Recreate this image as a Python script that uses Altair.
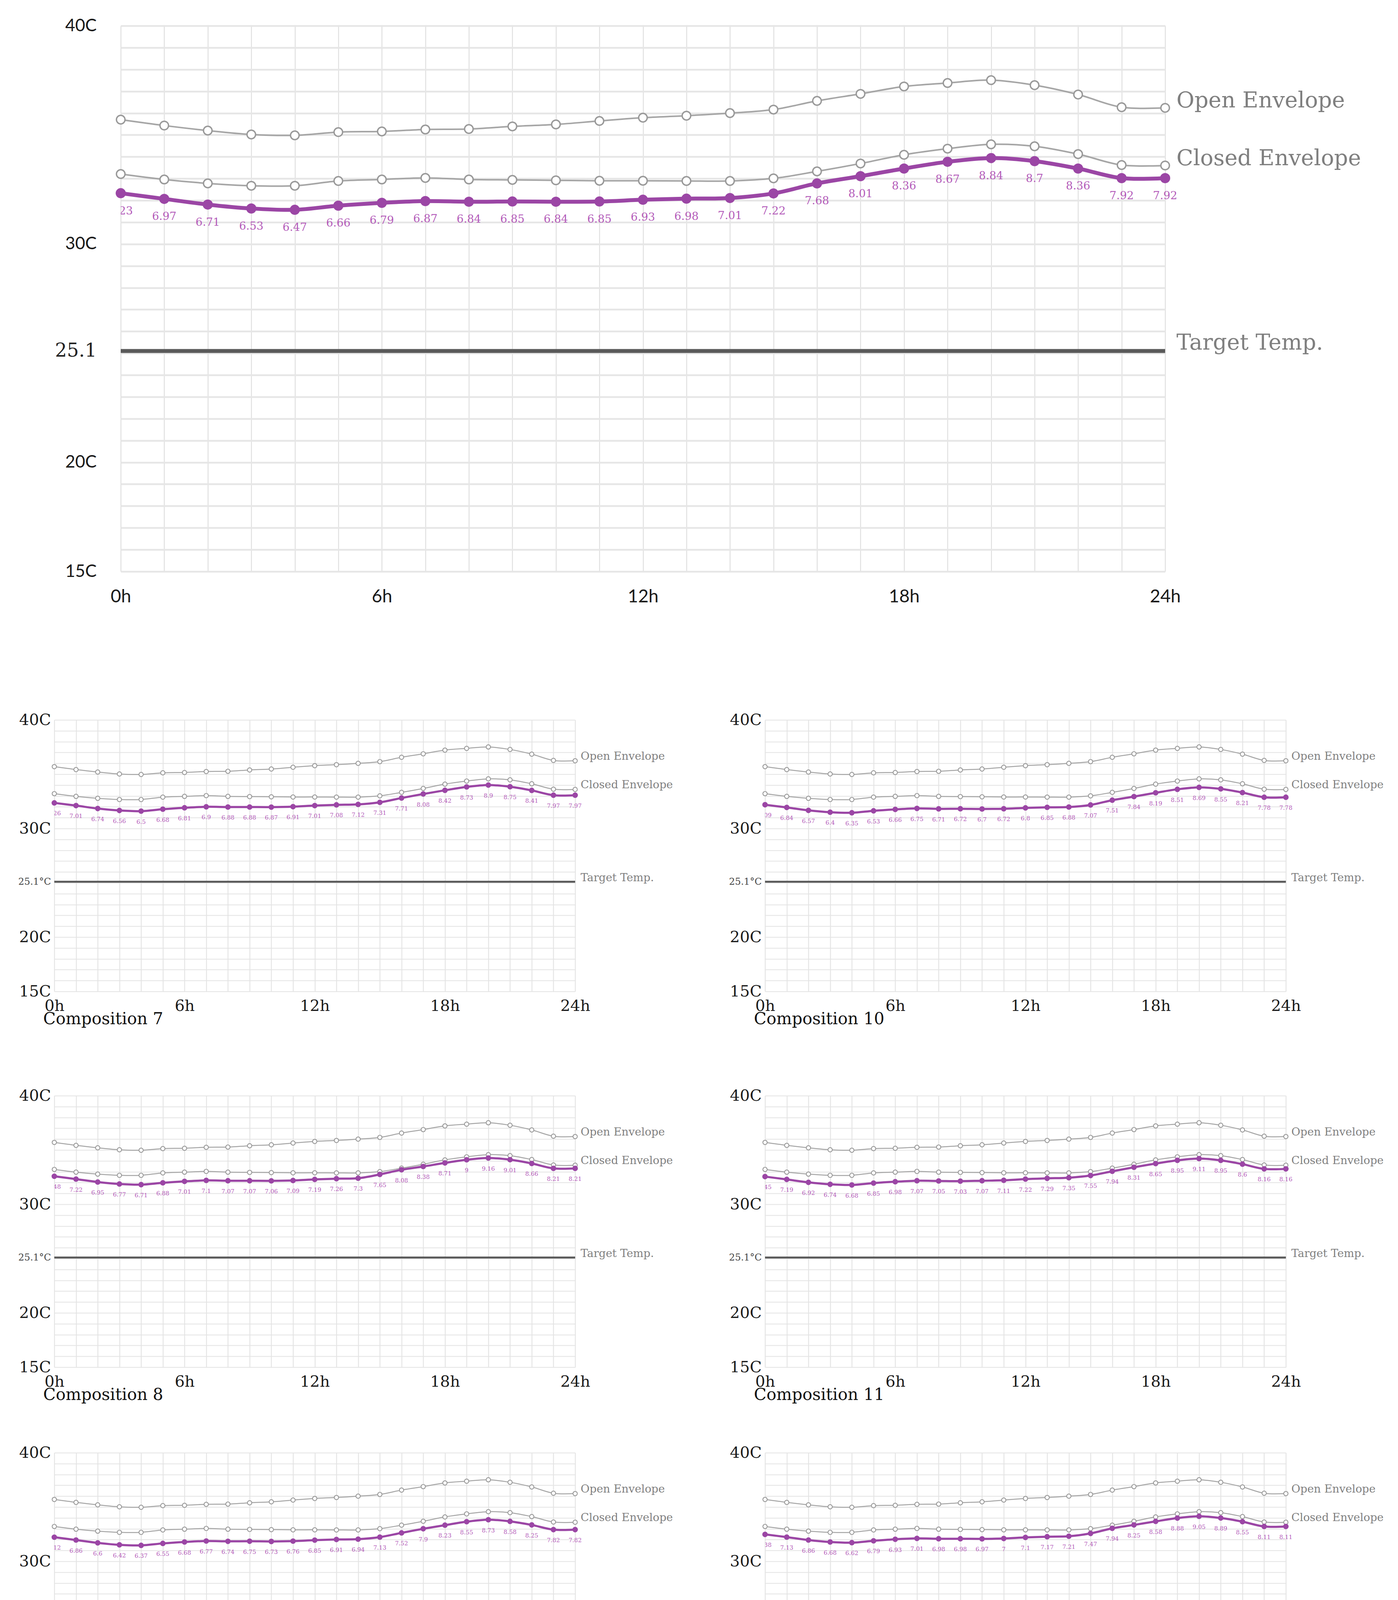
import altair as alt
import pandas as pd

HOURS = list(range(25))
OPEN_ENV = [35.70, 35.43, 35.20, 35.02, 34.98, 35.13, 35.16, 35.25, 35.27, 35.39, 35.48, 35.64, 35.79,
            35.88, 36.00, 36.16, 36.56, 36.88, 37.22, 37.38, 37.51, 37.28, 36.85, 36.27, 36.24]
CLOSED_ENV = [33.21, 32.96, 32.78, 32.67, 32.67, 32.89, 32.96, 33.03, 32.96, 32.94, 32.92, 32.90, 32.90,
              32.89, 32.89, 33.01, 33.33, 33.69, 34.09, 34.37, 34.57, 34.48, 34.12, 33.62, 33.60]
TARGET = 25.1

MAIN = [7.23, 6.97, 6.71, 6.53, 6.47, 6.66, 6.79, 6.87, 6.84, 6.85, 6.84, 6.85, 6.93, 6.98, 7.01,
        7.22, 7.68, 8.01, 8.36, 8.67, 8.84, 8.7, 8.36, 7.92, 7.92]
COMP7 = [7.26, 7.01, 6.74, 6.56, 6.5, 6.68, 6.81, 6.9, 6.88, 6.88, 6.87, 6.91, 7.01, 7.08, 7.12,
         7.31, 7.71, 8.08, 8.42, 8.73, 8.9, 8.75, 8.41, 7.97, 7.97]
COMP10 = [7.09, 6.84, 6.57, 6.4, 6.35, 6.53, 6.66, 6.75, 6.71, 6.72, 6.7, 6.72, 6.8, 6.85, 6.88,
          7.07, 7.51, 7.84, 8.19, 8.51, 8.69, 8.55, 8.21, 7.78, 7.78]
COMP8 = [7.48, 7.22, 6.95, 6.77, 6.71, 6.88, 7.01, 7.1, 7.07, 7.07, 7.06, 7.09, 7.19, 7.26, 7.3,
         7.65, 8.08, 8.38, 8.71, 9, 9.16, 9.01, 8.66, 8.21, 8.21]
COMP11 = [7.45, 7.19, 6.92, 6.74, 6.68, 6.85, 6.98, 7.07, 7.05, 7.03, 7.07, 7.11, 7.22, 7.29, 7.35,
          7.55, 7.94, 8.31, 8.65, 8.95, 9.11, 8.95, 8.6, 8.16, 8.16]
COMP9 = [7.12, 6.86, 6.6, 6.42, 6.37, 6.55, 6.68, 6.77, 6.74, 6.75, 6.73, 6.76, 6.85, 6.91, 6.94,
         7.13, 7.52, 7.9, 8.23, 8.55, 8.73, 8.58, 8.25, 7.82, 7.82]
COMP12 = [7.38, 7.13, 6.86, 6.68, 6.62, 6.79, 6.93, 7.01, 6.98, 6.98, 6.97, 7, 7.1, 7.17, 7.21,
          7.47, 7.94, 8.25, 8.58, 8.88, 9.05, 8.89, 8.55, 8.11, 8.11]

Y_TICKS = list(range(15, 41)) + [TARGET]
SERIES_NAMES = ["Open Envelope", "Closed Envelope", "Target Temp."]

PURPLE = "#9b46a5"
PURPLE_TXT = "#b35ab9"
GRAY_LINE = "#a6a6a6"
GRAY_MARK = "#999999"
TARGET_COLOR = "#5a5a5a"
LABEL_GRAY = "#7f7f7f"

BIG = dict(w=2673, h=1397, target_w=10, env_w=4, env_size=480, env_sw=3.5, p_w=10, p_size=676,
           lab_size=28, lab_dy=46, side_size=56, side_dx=29, side_dy=[-18, -18, -21],
           xfont="Lato", xsize=46, xpad=42, yfont="Lato", ysize=44, ypad=62,
           tfont="DejaVu Serif", tsize=48, ttext="'25.1\u00a0'", tcolor="#222222",
           hgrid_w=4.5, hgrid_c="#e6e6e6", vgrid_w=2, vgrid_c="#dadada")
SMALL = dict(w=1333, h=695, target_w=5, env_w=2.5, env_size=121, env_sw=2.2, p_w=5.5, p_size=200,
             lab_size=15, lab_dy=27, side_size=28, side_dx=14, side_dy=[-11, -11, -9],
             xfont="DejaVu Serif", xsize=40, xpad=17, yfont="DejaVu Serif", ysize=40, ypad=9,
             tfont="DejaVu Serif", tsize=24, ttext="'25.1°C'", tcolor="#444444",
             hgrid_w=2, hgrid_c="#e3e3e3", vgrid_w=2.5, vgrid_c="#e6e6e6")


def panel(values, big, title=None):
    S = BIG if big else SMALL
    df = pd.DataFrame({"hour": HOURS, "open": OPEN_ENV, "closed": CLOSED_ENV, "diff": values})
    df["temp"] = TARGET + df["diff"]
    df["label"] = [f"{v:g}" for v in values]

    xs = alt.Scale(domain=[0, 24], nice=False, zero=False)
    ys = alt.Scale(domain=[15, 40], nice=False, zero=False)

    xkw = dict(orient="bottom", values=HOURS,
               labelExpr="datum.value % 6 == 0 ? datum.value + 'h' : ''",
               grid=True, gridColor=S["vgrid_c"], gridWidth=S["vgrid_w"], ticks=False, domain=False,
               labelFont=S["xfont"], labelFontSize=S["xsize"], labelColor="#1a1a1a",
               labelPadding=S["xpad"], labelFlush=False, labelOverlap=False, labelBound=False)
    if title:
        xkw.update(title=title, titleFont="DejaVu Serif", titleFontSize=42, titleFontWeight="normal",
                   titleColor="#111111", titleX=-29, titleY=50, titleAlign="left",
                   titleBaseline="top", titleAngle=0, titleAnchor="start")
    else:
        xkw.update(title="")
    x_axis = alt.Axis(**xkw)

    y_axis = alt.Axis(
        orient="left", values=Y_TICKS,
        labelExpr="datum.value == 25.1 ? " + S["ttext"] +
                  " : ((datum.value % 10 == 0 || datum.value == 15) ? datum.value + 'C' : '')",
        grid=True, gridColor=S["hgrid_c"], gridWidth=S["hgrid_w"], ticks=False, domain=False,
        labelFont={"condition": {"test": "datum.value == 25.1", "value": S["tfont"]}, "value": S["yfont"]},
        labelFontSize={"condition": {"test": "datum.value == 25.1", "value": S["tsize"]}, "value": S["ysize"]},
        labelColor={"condition": {"test": "datum.value == 25.1", "value": S["tcolor"]}, "value": "#1a1a1a"},
        labelPadding=S["ypad"], labelOverlap=False, labelBound=False, labelBaseline="middle", title="")

    def X(field="hour"):
        return alt.X(f"{field}:Q", scale=xs, axis=x_axis)

    def Y(field):
        return alt.Y(f"{field}:Q", scale=ys, axis=y_axis)

    base = alt.Chart(df)
    layers = []
    layers.append(alt.Chart(pd.DataFrame({"hour": [0, 24], "t": [TARGET, TARGET]})).mark_line(
        color=TARGET_COLOR, strokeWidth=S["target_w"]).encode(x=X(), y=Y("t")))
    for col in ["open", "closed"]:
        layers.append(base.mark_line(color=GRAY_LINE, strokeWidth=S["env_w"],
                                     interpolate="catmull-rom").encode(x=X(), y=Y(col)))
        layers.append(base.mark_point(shape="circle", filled=True, fill="white", stroke=GRAY_MARK,
                                      strokeWidth=S["env_sw"], size=S["env_size"], opacity=1).encode(
            x=X(), y=Y(col)))

    layers.append(base.mark_line(color=PURPLE, strokeWidth=S["p_w"],
                                 interpolate="catmull-rom").encode(x=X(), y=Y("temp")))
    layers.append(base.mark_point(shape="circle", filled=True, color=PURPLE, size=S["p_size"],
                                  opacity=1).encode(x=X(), y=Y("temp")))

    txt = dict(font="DejaVu Serif", fontSize=S["lab_size"], color=PURPLE_TXT, dy=S["lab_dy"],
               baseline="middle", align="center")
    layers.append(base.transform_filter("datum.hour > 0").mark_text(**txt).encode(
        x=X(), y=Y("temp"), text="label:N"))
    layers.append(base.transform_filter("datum.hour == 0").mark_text(clip=True, **txt).encode(
        x=X(), y=Y("temp"), text="label:N"))

    side_vals = [OPEN_ENV[-1], CLOSED_ENV[-1], TARGET]
    for name, val, dy in zip(SERIES_NAMES, side_vals, S["side_dy"]):
        sdf = pd.DataFrame({"hour": [24], "v": [val], "name": [name]})
        layers.append(alt.Chart(sdf).mark_text(font="DejaVu Serif", fontSize=S["side_size"],
                                               color=LABEL_GRAY, align="left", baseline="middle",
                                               dx=S["side_dx"], dy=dy).encode(
            x=X(), y=Y("v"), text="name:N"))

    return alt.layer(*layers).properties(width=S["w"], height=S["h"])


def spacer(w, h):
    return alt.Chart(pd.DataFrame({"v": [0]})).mark_point(opacity=0, size=1).encode(
        x=alt.X("v:Q", axis=None), y=alt.Y("v:Q", axis=None)).properties(width=w, height=h)


big = panel(MAIN, True)
top = alt.hconcat(spacer(1, 1), big, spacing=0)
row1 = alt.hconcat(panel(COMP7, False, "Composition 7"), panel(COMP10, False, "Composition 10"), spacing=142)
row2 = alt.hconcat(panel(COMP8, False, "Composition 8"), panel(COMP11, False, "Composition 11"), spacing=142)
row3 = alt.hconcat(panel(COMP9, False, "Composition 9"), panel(COMP12, False, "Composition 12"), spacing=142)

chart = alt.vconcat(top, spacer(1, 273), row1, spacer(1, 156), row2, spacer(1, 108), row3,
                    spacing=0).properties(
    padding={"left": 38, "top": 36, "right": 10, "bottom": 10},
    background="white",
).configure_view(strokeWidth=0)

chart.save("out.html", embed_options={"renderer": "svg", "actions": False})
